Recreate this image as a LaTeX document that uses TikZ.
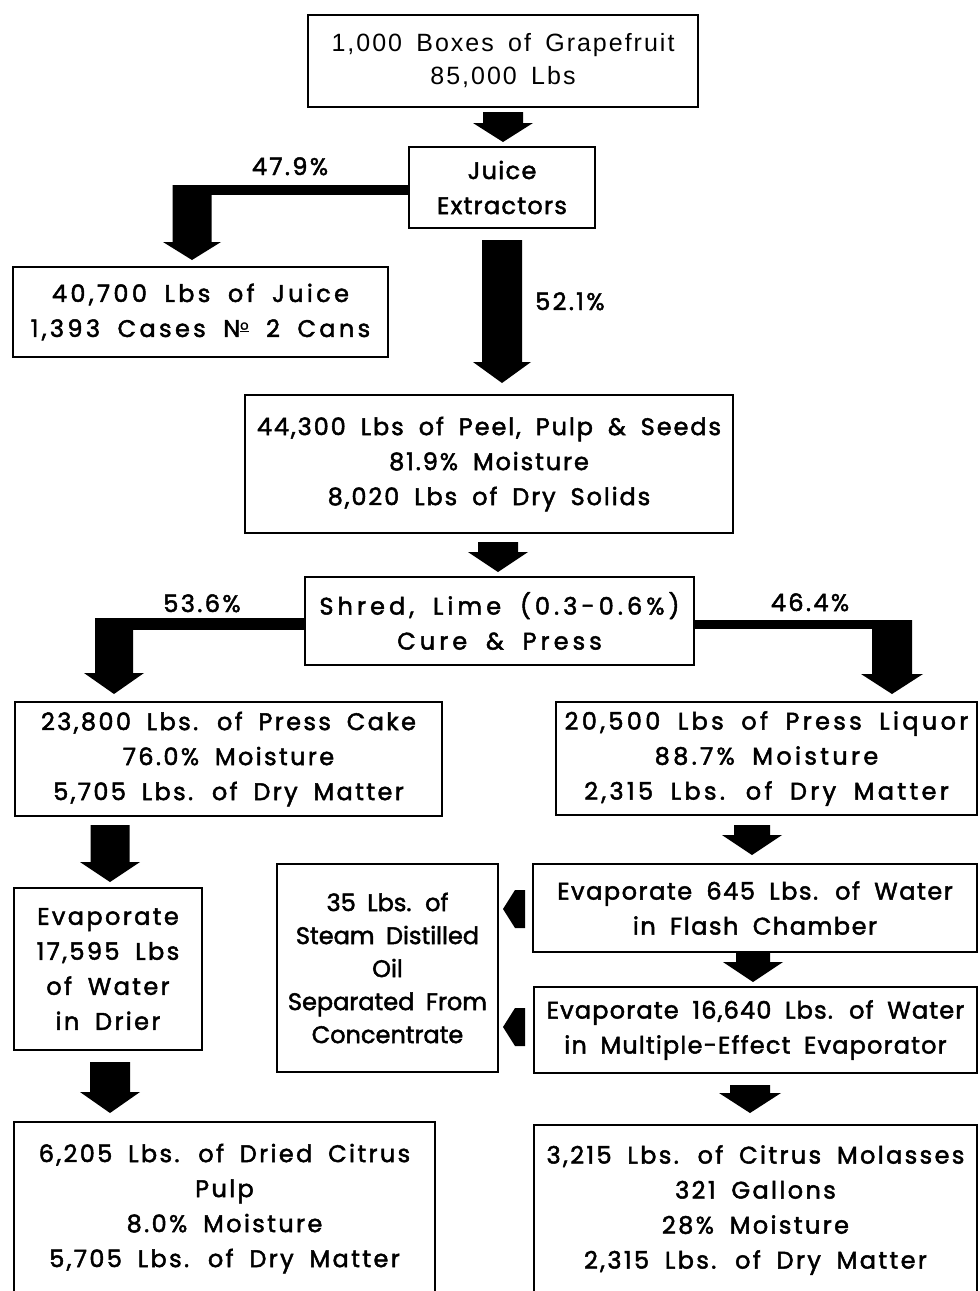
\documentclass[tikz,border=0pt]{standalone}
\usepackage{fontspec}
\setmainfont{Poppins}[LetterSpace=10, WordSpace=1.8, FakeBold=2]
\newfontfamily\boxonefont{Liberation Sans}[LetterSpace=8, WordSpace=1.6]
\usetikzlibrary{calc}
\tikzset{
  bx/.style={draw, line width=2.6pt, align=center, inner sep=0pt},
  lbl/.style={font=\fontsize{24}{30}\selectfont, inner sep=0pt, anchor=base},
}
% box: name, x1, y1, x2, y2, letter spacing, text
\newcommand\bxat[7]{\node[bx, font=\fontsize{24}{35}\selectfont\addfontfeatures{LetterSpace=#6},
  minimum width={(#4-#2)*1pt}, minimum height={(#5-#3)*1pt}] (#1) at ({(#2+#4)/2},{(#3+#5)/2}) {#7};}
% block arrow down: start coord, apex coord, shaft half, head half, head length
\newcommand\blk[5]{\fill let \p1=(#1),\p2=(#2) in
  (\x2-#3pt,\y1) -- (\x2+#3pt,\y1) -- (\x2+#3pt,\y2+#5pt) -- (\x2+#4pt,\y2+#5pt)
  -- (\x2,\y2) -- (\x2-#4pt,\y2+#5pt) -- (\x2-#3pt,\y2+#5pt) -- cycle;}
% small left arrow: tip coord
\newcommand\lft[1]{\fill let \p1=(#1) in (\x1,\y1) -- (\x1+12pt,\y1+19pt) -- (\x1+22pt,\y1+19pt)
  -- (\x1+22pt,\y1-19pt) -- (\x1+12pt,\y1-19pt) -- cycle;}
\newcommand\No{N\raisebox{0.55ex}{\fontsize{13}{13}\selectfont\underline{o}}}
\begin{document}
\begin{tikzpicture}[x=1pt,y=-1pt]
\useasboundingbox (0,0) rectangle (980,1291);
\clip (0,0) rectangle (980,1291);

% boxes
\node[bx, font=\boxonefont\fontsize{25}{33}\selectfont, minimum width=390pt, minimum height=92pt] (b1) at (503,61)
  {1,000 Boxes of Grapefruit\\85,000 Lbs};
\bxat{b2}{409}{147}{595}{228}{5.5}{Juice\\Extractors}
\bxat{b3}{13}{267}{388}{357}{14}{40,700 Lbs of Juice\\1,393 Cases \No\ 2 Cans}
\bxat{b4}{245}{395}{733}{533}{8}{44,300 Lbs of Peel, Pulp \& Seeds\\81.9\% Moisture\\8,020 Lbs of Dry Solids}
\bxat{b5}{305}{577}{694}{665}{17}{Shred, Lime (0.3-0.6\%)\\Cure \& Press}
\bxat{b6}{15}{702}{442}{816}{10}{23,800 Lbs. of Press Cake\\76.0\% Moisture\\5,705 Lbs. of Dry Matter}
\bxat{b7}{556}{702}{977}{815}{14}{20,500 Lbs of Press Liquor\\88.7\% Moisture\\2,315 Lbs. of Dry Matter}
\bxat{b8}{14}{888}{202}{1050}{10}{Evaporate\\17,595 Lbs\\of Water\\in Drier}
\node[bx, font=\fontsize{24}{33}\selectfont\addfontfeatures{LetterSpace=0}, minimum width=221pt, minimum height=208pt] (b9) at (387.5,968)
  {35 Lbs. of\\Steam Distilled\\Oil\\Separated From\\Concentrate};
\bxat{b10}{533}{864}{977}{952}{6.5}{Evaporate 645 Lbs. of Water\\in Flash Chamber}
\bxat{b11}{534}{987}{977}{1073}{5}{Evaporate 16,640 Lbs. of Water\\in Multiple-Effect Evaporator}
\bxat{b12}{534}{1125}{977}{1295}{10}{3,215 Lbs. of Citrus Molasses\\321 Gallons\\28\% Moisture\\2,315 Lbs. of Dry Matter}
\bxat{b13}{14}{1122}{435}{1295}{10}{6,205 Lbs. of Dried Citrus\\Pulp\\8.0\% Moisture\\5,705 Lbs. of Dry Matter}

% labels
\node[lbl] (l1) at (290,175) {47.9\%};
\node[lbl, anchor=base west] (l2) at (535,310) {52.1\%};
\node[lbl] (l3) at (202,612) {53.6\%};
\node[lbl] (l4) at (810,611) {46.4\%};

% arrow end points
\coordinate (a1s) at (503,112); \coordinate (a1e) at (503,142);
\coordinate (a2s) at (192,185); \coordinate (a2e) at (192,260);
\coordinate (a3s) at (502,240); \coordinate (a3e) at (502,383);
\coordinate (a4s) at (498,542); \coordinate (a4e) at (498,572);
\coordinate (a5s) at (114,620); \coordinate (a5e) at (114,694);
\coordinate (a6s) at (892,620); \coordinate (a6e) at (892,694);
\coordinate (a7s) at (110,825); \coordinate (a7e) at (110,882);
\coordinate (a8s) at (110,1062); \coordinate (a8e) at (110,1113);
\coordinate (a9s) at (752,825); \coordinate (a9e) at (752,855);
\coordinate (a10s) at (753,953); \coordinate (a10e) at (753,982);
\coordinate (a11s) at (750,1085); \coordinate (a11e) at (750,1113);
\coordinate (t1) at (503,909); \coordinate (t2) at (503,1027);

% connectors
\blk{a1s}{a1e}{20}{30}{19}
\fill (a2s) ++(-19pt,0) rectangle (b2.west |- 0,195);
\blk{a2s}{a2e}{19.5}{29}{18}
\blk{a3s}{a3e}{20}{29}{21}
\blk{a4s}{a4e}{20}{30}{20}
\fill (a5s) ++(-19pt,2pt) rectangle (b5.west |- 0,630);
\blk{a5s}{a5e}{19}{30}{21}
\fill (b5.east |- 0,620) rectangle ($(a6s)+(20pt,-9pt)$);
\blk{a6s}{a6e}{20}{31}{20}
\blk{a7s}{a7e}{19.5}{30}{20}
\blk{a8s}{a8e}{20}{30}{21}
\blk{a9s}{a9e}{18}{30}{20}
\blk{a10s}{a10e}{17}{30}{20}
\blk{a11s}{a11e}{20}{31}{20}
\lft{t1}
\lft{t2}
\end{tikzpicture}
\end{document}
